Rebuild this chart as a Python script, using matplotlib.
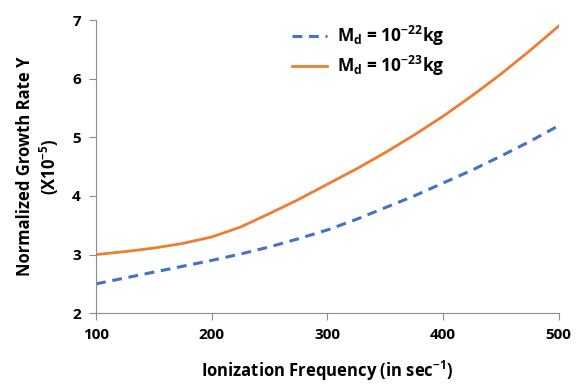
import matplotlib
matplotlib.use("Agg")
import matplotlib.pyplot as plt

plt.rcParams["font.family"] = ["Open Sans", "DejaVu Sans"]

freq = [100, 125, 150, 175, 200, 225, 250, 275, 300, 325, 350, 375, 400, 425, 450, 475, 500]
rate_m22 = [2.5, 2.6, 2.7, 2.8, 2.9, 3.01, 3.13, 3.27, 3.42, 3.6, 3.8, 4.0, 4.22,
            4.44, 4.68, 4.93, 5.2]
rate_m23 = [3.0, 3.05, 3.11, 3.19, 3.3, 3.47, 3.7, 3.94, 4.2, 4.46, 4.74, 5.04, 5.36,
            5.71, 6.08, 6.48, 6.9]
x_ticks = [100, 200, 300, 400, 500]
y_ticks = [2, 3, 4, 5, 6, 7]

fig = plt.figure(figsize=(5.79, 3.88), dpi=100)
ax = fig.add_axes([0.166, 0.193, 0.799, 0.755])

ax.plot(freq, rate_m22, color="#4472C4", lw=2.2, ls=(0, (3.2, 2.2)),
        label=r"M$_\mathregular{d}$ = 10$^\mathregular{-22}$kg")
ax.plot(freq, rate_m23, color="#ED7D31", lw=2.0,
        label=r"M$_\mathregular{d}$ = 10$^\mathregular{-23}$kg")

ax.set_xlim(100, 500)
ax.set_ylim(2, 7)
ax.set_xticks(x_ticks)
ax.set_yticks(y_ticks)
for side in ["top", "right"]:
    ax.spines[side].set_visible(False)
for side in ["left", "bottom"]:
    ax.spines[side].set_color("#8c8c8c")
ax.tick_params(direction="out", length=5, color="#8c8c8c", labelsize=11, pad=6)
for lab in ax.get_xticklabels() + ax.get_yticklabels():
    lab.set_fontweight("bold")

ax.set_xlabel(r"Ionization Frequency (in sec$^\mathregular{-1}$)", fontsize=12,
              fontweight="bold", labelpad=12)
ax.set_ylabel("Normalized Growth Rate Υ\n" + r"(X10$^\mathregular{-5}$)", fontsize=12,
              fontweight="bold", labelpad=8)

leg = ax.legend(loc="upper left", bbox_to_anchor=(0.39, 1.04), frameon=False,
                prop={"size": 12.5, "weight": "bold"}, handlelength=2.0,
                handletextpad=0.6, labelspacing=0.35)

fig.savefig("out.png", dpi=100)
